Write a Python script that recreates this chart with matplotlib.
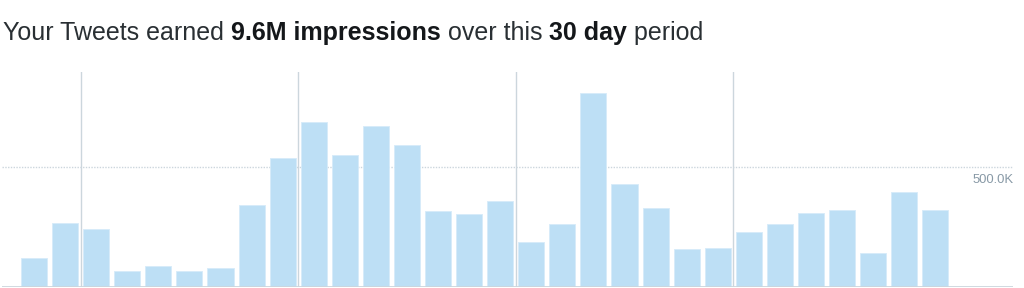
import matplotlib
matplotlib.use("Agg")
import matplotlib.pyplot as plt

# Daily impressions over the 30 day period
days = list(range(30))
impressions = [120e3, 268e3, 243e3, 64e3, 88e3, 64e3, 78e3, 341e3, 538e3, 691e3,
               553e3, 672e3, 593e3, 316e3, 306e3, 360e3, 188e3, 264e3, 814e3, 429e3,
               331e3, 158e3, 162e3, 229e3, 261e3, 311e3, 322e3, 140e3, 398e3, 322e3]
week_breaks = [1.5, 8.5, 15.5, 22.5]
grid_value = 500e3
grid_label = "500.0K"

# Title pieces (text, bold?)
title_parts = [("Your Tweets earned ", False), ("9.6M impressions", True),
               (" over this ", False), ("30 day", True), (" period", False)]

bar_color = "#bddff5"
line_color = "#ccd6dd"
label_color = "#8899a6"

plt.rcParams['font.family'] = ['Liberation Sans', 'DejaVu Sans']

fig = plt.figure(figsize=(10.24, 2.88), dpi=100)
ax = fig.add_axes([2 / 1024, 1.3 / 288, 1011 / 1024, 214.7 / 288])

ax.bar(days, impressions, width=0.84, color=bar_color, edgecolor="#d6ebf9",
       linewidth=0.6, zorder=2)

for xb in week_breaks:
    ax.axvline(xb, color=line_color, linewidth=1.0, zorder=1)

ax.axhline(grid_value, color=line_color, linewidth=1.0, linestyle=(0, (1, 1)), zorder=1)
ax.axhline(0, color=line_color, linewidth=2.0, zorder=3)
# label sits just under the grid line, flush with the right edge
ax.text(1.001, grid_value - 28e3, grid_label, transform=ax.get_yaxis_transform(),
        ha="right", va="top", fontsize=9.4, color=label_color)

ax.set_xlim(-1.03, 31.5)
ax.set_ylim(0, 900e3)
ax.axis("off")

# Mixed bold / regular title
renderer = fig.canvas.get_renderer()
x = 3 / 1024
for txt, bold in title_parts:
    t = fig.text(x, 1 - 40 / 288, txt, fontsize=18, color="#14171a" if bold else "#292f33",
                 fontweight="bold" if bold else "normal", ha="left", va="baseline")
    bb = t.get_window_extent(renderer=renderer)
    x += bb.width / fig.bbox.width

fig.savefig("out.png", dpi=100)
